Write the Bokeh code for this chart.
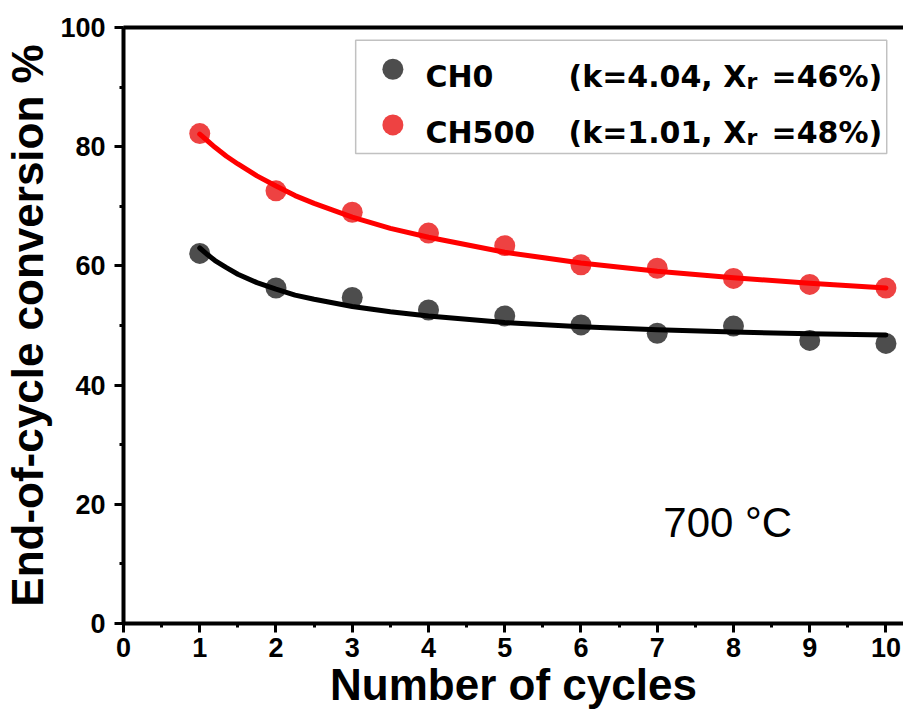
from bokeh.plotting import figure
from bokeh.models import (Range1d, LinearAxis, SingleIntervalTicker, FixedTicker,
                          Label, BoxAnnotation)
from bokeh.embed import file_html
from bokeh.resources import INLINE

# ---- data ----
cycles = [1, 2, 3, 4, 5, 6, 7, 8, 9, 10]
ch0 = [62.1, 56.3, 54.7, 52.6, 51.6, 50.1, 48.7, 49.9, 47.5, 47.0]
ch500 = [82.2, 72.6, 69.0, 65.5, 63.4, 60.2, 59.6, 57.9, 56.9, 56.3]

# fitted curves
fit_x = [1, 1.1, 1.2, 1.35, 1.5, 1.75, 2, 2.25, 2.5, 3, 3.5, 4, 5, 6, 7, 8, 9, 10]
fit_ch0 = [63.0, 61.9, 60.9, 59.7, 58.6, 57.2, 56.1, 55.1, 54.4, 53.2, 52.3, 51.6,
           50.5, 49.8, 49.3, 48.9, 48.6, 48.4]
fit_ch500 = [82.1, 81.0, 79.9, 78.4, 77.1, 75.1, 73.4, 71.8, 70.5, 68.2, 66.3, 64.8,
             62.3, 60.5, 59.1, 58.0, 57.1, 56.3]

series_names = ["CH0", "CH500"]
series_params = ["(k=4.04, X", "(k=1.01, X"]
series_xr = ["=46%)", "=48%)"]

x_label = "Number of cycles"
y_label = "End-of-cycle conversion %"
temp_label = "700 \u00b0C"

FONT = "Liberation Sans"
LFONT = "DejaVu Sans"
BLACK_PT = "#4d4d4d"
RED_PT = "#ee4242"

p = figure(width=903, height=711, output_backend="svg", toolbar_location=None,
           x_range=Range1d(0, 10.23), y_range=Range1d(0, 100),
           min_border_left=123, min_border_right=0, min_border_top=27,
           min_border_bottom=87, x_axis_label=x_label, y_axis_label=y_label)
p.outline_line_color = None
p.xgrid.visible = False
p.ygrid.visible = False
p.background_fill_color = "white"
p.border_fill_color = "white"

# axes
p.xaxis.ticker = SingleIntervalTicker(interval=1, num_minor_ticks=2)
p.yaxis.ticker = SingleIntervalTicker(interval=20, num_minor_ticks=2)
for ax in (p.xaxis[0], p.yaxis[0]):
    ax.axis_line_width = 4
    ax.axis_line_color = "black"
    ax.major_tick_line_width = 3
    ax.minor_tick_line_width = 3
    ax.major_tick_in = 0
    ax.minor_tick_in = 0
    ax.major_tick_out = 9
    ax.minor_tick_out = 4
    ax.major_label_text_font = FONT
    ax.major_label_text_font_style = "bold"
    ax.major_label_text_font_size = "27px"
    ax.major_label_text_color = "black"
    ax.axis_label_text_font = FONT
    ax.axis_label_text_font_style = "bold"
    ax.axis_label_text_color = "black"
p.yaxis.axis_label_text_font_size = "44px"
p.xaxis.axis_label_text_font_size = "44px"
p.yaxis.major_label_standoff = 9
p.yaxis.axis_label_standoff = 5
p.xaxis.major_label_standoff = 5
p.xaxis.axis_label_standoff = 0

top_axis = LinearAxis(ticker=FixedTicker(ticks=[]), axis_line_width=4,
                      major_label_text_font_size="0px", major_tick_out=0,
                      minor_tick_out=0)
p.add_layout(top_axis, "above")

# data
p.scatter(cycles, ch0, size=21, fill_color=BLACK_PT, line_color=None)
p.scatter(cycles, ch500, size=21, fill_color=RED_PT, line_color=None)
p.line(fit_x, fit_ch0, line_color="black", line_width=5, line_cap="round", line_join="round")
p.line(fit_x, fit_ch500, line_color="#ff0000", line_width=5, line_cap="round", line_join="round")

# legend (manual, to allow subscript)
box = BoxAnnotation(left=3.045, right=10.01, bottom=78.87, top=97.87,
                    fill_color=None, line_color="#333333", line_width=1.5)
p.add_layout(box)
leg_marker_x = [3.533, 3.533]
leg_marker_y = [93.0, 83.65]
p.scatter(leg_marker_x, leg_marker_y, size=21, fill_color=[BLACK_PT, RED_PT], line_color=None)
row_base = [91.73, 82.34]
for name, par, xr, yb in zip(series_names, series_params, series_xr, row_base):
    common = dict(text_font=LFONT, text_font_style="bold", text_color="black",
                  text_baseline="alphabetic", text_align="left")
    p.add_layout(Label(x=3.96, y=yb, text=name, text_font_size="30px", **common))
    p.add_layout(Label(x=5.836, y=yb, text=par, text_font_size="30px", **common))
    p.add_layout(Label(x=8.17, y=yb - 0.8, text="r", text_font_size="22px", **common))
    p.add_layout(Label(x=8.5, y=yb, text=xr, text_font_size="30px", **common))

p.add_layout(Label(x=7.08, y=16.94, text=temp_label, text_font=FONT,
                   text_font_size="42px", text_color="black",
                   text_baseline="alphabetic", text_align="left"))

open("out.html", "w").write(file_html(p, INLINE))
